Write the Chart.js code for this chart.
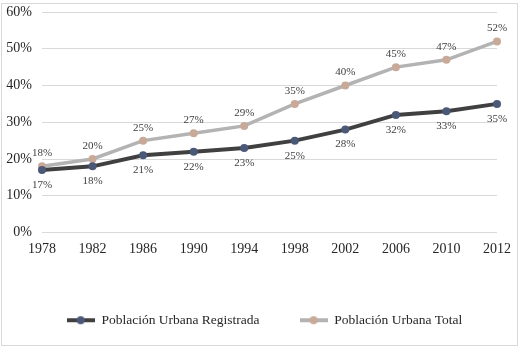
<!DOCTYPE html>
<html>
<head>
<meta charset="utf-8">
<script src="https://cdn.jsdelivr.net/npm/chart.js@4"></script>
<style>
  body { margin: 0; background: #fff; }
  #wrap { width: 522px; height: 350px; }
</style>
</head>
<body>
<div id="wrap"><canvas id="urbanChart" width="522" height="350"></canvas></div>
<script>
const years = ['1978', '1982', '1986', '1990', '1994', '1998', '2002', '2006', '2010', '2012'];
const registrada = [17, 18, 21, 22, 23, 25, 28, 32, 33, 35];
const total = [18, 20, 25, 27, 29, 35, 40, 45, 47, 52];
const yTicks = [0, 10, 20, 30, 40, 50, 60];

const serif = '"Liberation Serif", "Times New Roman", "DejaVu Serif", serif';

// small canvas used as legend symbol: line with a dot in the middle
function legendMark(lineColor, dotColor) {
    const c = document.createElement('canvas');
    c.width = 28;
    c.height = 10;
    const g = c.getContext('2d');
    g.strokeStyle = lineColor;
    g.lineWidth = 4;
    g.beginPath();
    g.moveTo(0, 5);
    g.lineTo(28, 5);
    g.stroke();
    g.fillStyle = dotColor;
    g.beginPath();
    g.arc(14, 5, 4, 0, Math.PI * 2);
    g.fill();
    return c;
}

// outer frame + percentage labels on each point
const extras = {
    id: 'extras',
    afterLayout(chart) {
        // legend is centred on the whole picture, not just the plot
        chart.legend.left += 16;
        chart.legend.right += 16;
    },
    beforeDraw(chart) {
        const ctx = chart.ctx;
        ctx.save();
        ctx.strokeStyle = '#d9d9d9';
        ctx.lineWidth = 1;
        ctx.strokeRect(1.5, 3.5, 516, 342);
        ctx.restore();
    },
    afterDatasetsDraw(chart) {
        const ctx = chart.ctx;
        ctx.save();
        ctx.font = '11px ' + serif;
        ctx.fillStyle = '#404040';
        ctx.textAlign = 'center';
        ctx.textBaseline = 'middle';
        chart.data.datasets.forEach((ds, i) => {
            const meta = chart.getDatasetMeta(i);
            const off = i === 0 ? 15 : -13;
            meta.data.forEach((pt, j) => {
                ctx.fillText(ds.data[j] + '%', pt.x, pt.y + off);
            });
        });
        ctx.restore();
    }
};

const ctx = document.getElementById('urbanChart').getContext('2d');
new Chart(ctx, {
    type: 'line',
    data: {
        labels: years,
        datasets: [{
            label: 'Población Urbana Registrada',
            data: registrada,
            borderColor: '#404040',
            backgroundColor: '#4b5878',
            pointBackgroundColor: '#4b5878',
            pointBorderColor: '#4b5878',
            borderWidth: 4,
            pointRadius: 4,
            pointBorderWidth: 0,
            tension: 0
        }, {
            label: 'Población Urbana Total',
            data: total,
            borderColor: '#b3b3b3',
            backgroundColor: '#c9a998',
            pointBackgroundColor: '#c9a998',
            pointBorderColor: '#c9a998',
            borderWidth: 3.5,
            pointRadius: 4,
            pointBorderWidth: 0,
            tension: 0
        }]
    },
    options: {
        responsive: false,
        animation: false,
        layout: { padding: { top: 12, left: 0, right: 25, bottom: 13 } },
        scales: {
            x: {
                offset: false,
                grid: { display: false },
                border: { display: false },
                ticks: { color: '#262626', font: { family: serif, size: 14 }, padding: 0, maxRotation: 0 },
                afterFit(scale) { scale.height = 41; }
            },
            y: {
                min: 0,
                max: 60,
                afterBuildTicks(scale) { scale.ticks = yTicks.map(v => ({ value: v })); },
                grid: { color: '#d9d9d9', drawTicks: false },
                border: { display: false },
                ticks: {
                    color: '#262626',
                    font: { family: serif, size: 14 },
                    padding: 10,
                    callback: v => v + '%'
                },
                afterFit(scale) {
                    scale.width = 42;
                    scale.paddingTop = 0;
                    scale.paddingBottom = 0;
                }
            }
        },
        plugins: {
            tooltip: { enabled: false },
            legend: {
                position: 'bottom',
                labels: {
                    color: '#262626',
                    font: { family: serif, size: 13.5 },
                    usePointStyle: true,
                    pointStyleWidth: 28,
                    padding: 40,
                    generateLabels(chart) {
                        return chart.data.datasets.map((ds, i) => ({
                            text: ds.label,
                            pointStyle: legendMark(ds.borderColor, ds.pointBackgroundColor),
                            fontColor: '#262626',
                            strokeStyle: 'transparent',
                            fillStyle: 'transparent',
                            lineWidth: 0,
                            datasetIndex: i
                        }));
                    }
                }
            }
        }
    },
    plugins: [extras]
});
</script>
</body>
</html>
